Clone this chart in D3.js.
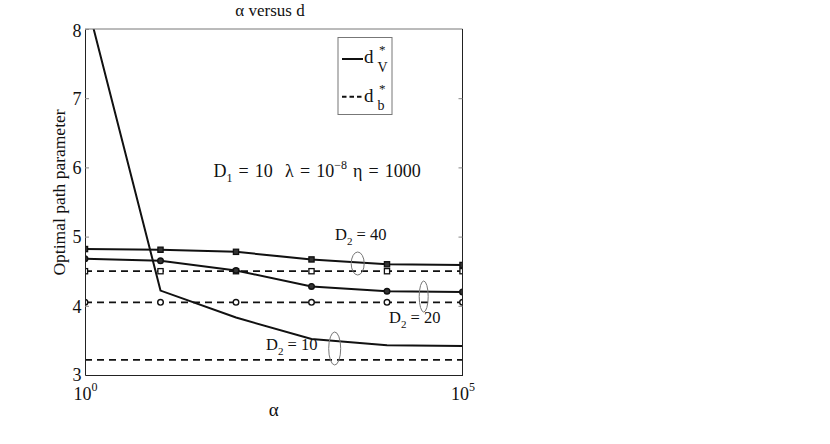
<!DOCTYPE html>
<html><head><meta charset="utf-8">
<script src="https://cdn.jsdelivr.net/npm/d3@7"></script>
<style>body{margin:0;background:#fff}svg{display:block}svg text{font-family:'Liberation Serif','DejaVu Serif',serif !important;fill:#111}</style>
</head><body><svg id="c" width="830" height="444"></svg>
<script>
const alphas = [1, 10, 100, 1000, 10000, 100000];
const vD40 = [4.82, 4.81, 4.78, 4.67, 4.60, 4.59];
const bD40 = [4.50, 4.50, 4.50, 4.50, 4.50, 4.50];
const vD20 = [4.68, 4.65, 4.51, 4.28, 4.21, 4.20];
const bD20 = [4.05, 4.05, 4.05, 4.05, 4.05, 4.05];
const vD10 = [8.49, 4.22, 3.83, 3.52, 3.43, 3.42];
const bD10 = [3.22, 3.22, 3.22, 3.22, 3.22, 3.22];
const yTicks = [3, 4, 5, 6, 7, 8];
const xTickExps = [0, 5];

const FF = "'Liberation Serif','DejaVu Serif',serif";
const svg = d3.select("#c");
const L = 85, R = 462.5, T = 29, B = 375;
const x = d3.scaleLog().domain([1, 1e5]).range([L, R]);
const y = d3.scaleLinear().domain([3, 8]).range([B, T]);

svg.append("defs").append("clipPath").attr("id","clip")
  .append("rect").attr("x",L).attr("y",T).attr("width",R-L).attr("height",B-T);

const g = svg.append("g").attr("clip-path","url(#clip)");
const line = d3.line().x((d,i)=>x(alphas[i])).y(d=>y(d));

const series = [
  {v:bD10, dash:true, m:null},
  {v:bD20, dash:true, m:"circle"},
  {v:bD40, dash:true, m:"square"},
  {v:vD10, dash:false, m:null},
  {v:vD20, dash:false, m:"circle"},
  {v:vD40, dash:false, m:"square"}
];
series.forEach(s=>{
  g.append("path").attr("d", line(s.v)).attr("fill","none").attr("stroke","#111")
    .attr("stroke-width", s.dash?1.8:2).attr("stroke-dasharray", s.dash?"7,5":null);
});
series.forEach(s=>{
  if(!s.m) return;
  const fill = s.dash ? "#fff" : "#333";
  s.v.forEach((v,i)=>{
    const cx = x(alphas[i]), cy = y(v);
    if(s.m==="circle") g.append("circle").attr("cx",cx).attr("cy",cy).attr("r",2.8)
      .attr("fill",fill).attr("stroke","#111").attr("stroke-width",1.4);
    else g.append("rect").attr("x",cx-2.6).attr("y",cy-2.6).attr("width",5.2).attr("height",5.2)
      .attr("fill",fill).attr("stroke","#111").attr("stroke-width",1.3);
  });
});

// frame
svg.append("line").attr("x1",L).attr("x2",R).attr("y1",T).attr("y2",T).attr("stroke","#777").attr("stroke-width",1);
svg.append("line").attr("x1",R).attr("x2",R).attr("y1",T).attr("y2",B).attr("stroke","#222").attr("stroke-width",1);

// axes
const yAxisL = d3.axisLeft(y).tickValues(yTicks).tickSize(-4).tickPadding(3.5).tickFormat(d3.format("d"));
const ga = svg.append("g").attr("transform",`translate(${L},0)`).call(yAxisL);
ga.attr("font-family",FF);
ga.select(".domain").attr("stroke","#222");
ga.selectAll(".tick line").attr("stroke","#888");
ga.selectAll(".tick text").attr("font-size",18).attr("fill","#111")
  .attr("dy",(d)=> d===8 ? "0.4em" : (d===3 ? "0.28em" : "0.35em"));
const gr = svg.append("g").attr("transform",`translate(${R},0)`).call(d3.axisRight(y).tickValues(yTicks.slice(1,5)).tickSize(-4).tickFormat(""));
gr.select(".domain").remove();
gr.selectAll(".tick line").attr("stroke","#888");

const xAxis = d3.axisBottom(x).tickValues(xTickExps.map(e=>Math.pow(10,e))).tickSize(0).tickFormat("");
const gx = svg.append("g").attr("transform",`translate(0,${B})`).call(xAxis);
gx.attr("font-family",FF);
gx.select(".domain").attr("stroke","#222");
gx.selectAll(".tick").each(function(d,i){
  const t = d3.select(this).append("text").attr("y",24.5).attr("font-size",18).attr("text-anchor","middle").attr("fill","#111");
  t.append("tspan").text("10");
  t.append("tspan").attr("dy",-9).attr("font-size",12).text(xTickExps[i]);
});

// labels
svg.append("text").attr("x",(L+R)/2).attr("y",415.5).attr("text-anchor","middle").attr("font-size",19).text("α");
svg.append("text").attr("transform","translate(65,192.5) rotate(-90)").attr("text-anchor","middle").attr("font-size",17.5).text("Optimal path parameter");
svg.append("text").attr("x",270).attr("y",15.5).attr("text-anchor","middle").attr("font-size",17).text("α versus d");

// annotation
const an = svg.append("text").attr("x",213.5).attr("y",176.5).attr("font-size",18).style("word-spacing","1.6px");
an.append("tspan").text("D");
an.append("tspan").attr("dy",5).attr("font-size",12).text("1");
an.append("tspan").attr("dy",-5).text(" = 10\u00a0 λ = 10");
an.append("tspan").attr("dy",-8).attr("font-size",12).text("−8");
an.append("tspan").attr("dy",8).text(" η = 1000");

function dlabel(xp, yp, val){
  const t = svg.append("text").attr("x",xp).attr("y",yp).attr("font-size",16.5);
  t.append("tspan").text("D");
  t.append("tspan").attr("dy",5).attr("font-size",11).text("2");
  t.append("tspan").attr("dy",-5).text(" = " + val);
}
dlabel(335, 240, "40");
dlabel(389, 323, "20");
dlabel(266, 350, "10");

function ell(cx, cy, rx, ry){
  svg.append("ellipse").attr("cx",cx).attr("cy",cy).attr("rx",rx).attr("ry",ry)
    .attr("fill","none").attr("stroke","#777").attr("stroke-width",1);
}
ell(357.7, 263.5, 6.5, 11.5);
ell(423.7, 296.5, 4.5, 15.5);
ell(334.7, 348.5, 6, 16.5);

// legend
const lg = svg.append("g");
lg.append("rect").attr("x",338).attr("y",37.5).attr("width",54).attr("height",77).attr("fill","#fff").attr("stroke","#777").attr("stroke-width",1);
[[false,"V",59,63.3],[true,"b",96.7,101.7]].forEach(([dash,sub,ly,by])=>{
  lg.append("line").attr("x1",342).attr("x2",363).attr("y1",ly).attr("y2",ly).attr("stroke","#111")
    .attr("stroke-width",2).attr("stroke-dasharray",dash?"4.5,3":null);
  lg.append("text").attr("x",364).attr("y",by).attr("font-size",19).text("d");
  lg.append("text").attr("x",379).attr("y",by-9).attr("font-size",13).text("*");
  lg.append("text").attr("x",377.5).attr("y",by+8.5).attr("font-size",14).text(sub);
});
</script></body></html>
